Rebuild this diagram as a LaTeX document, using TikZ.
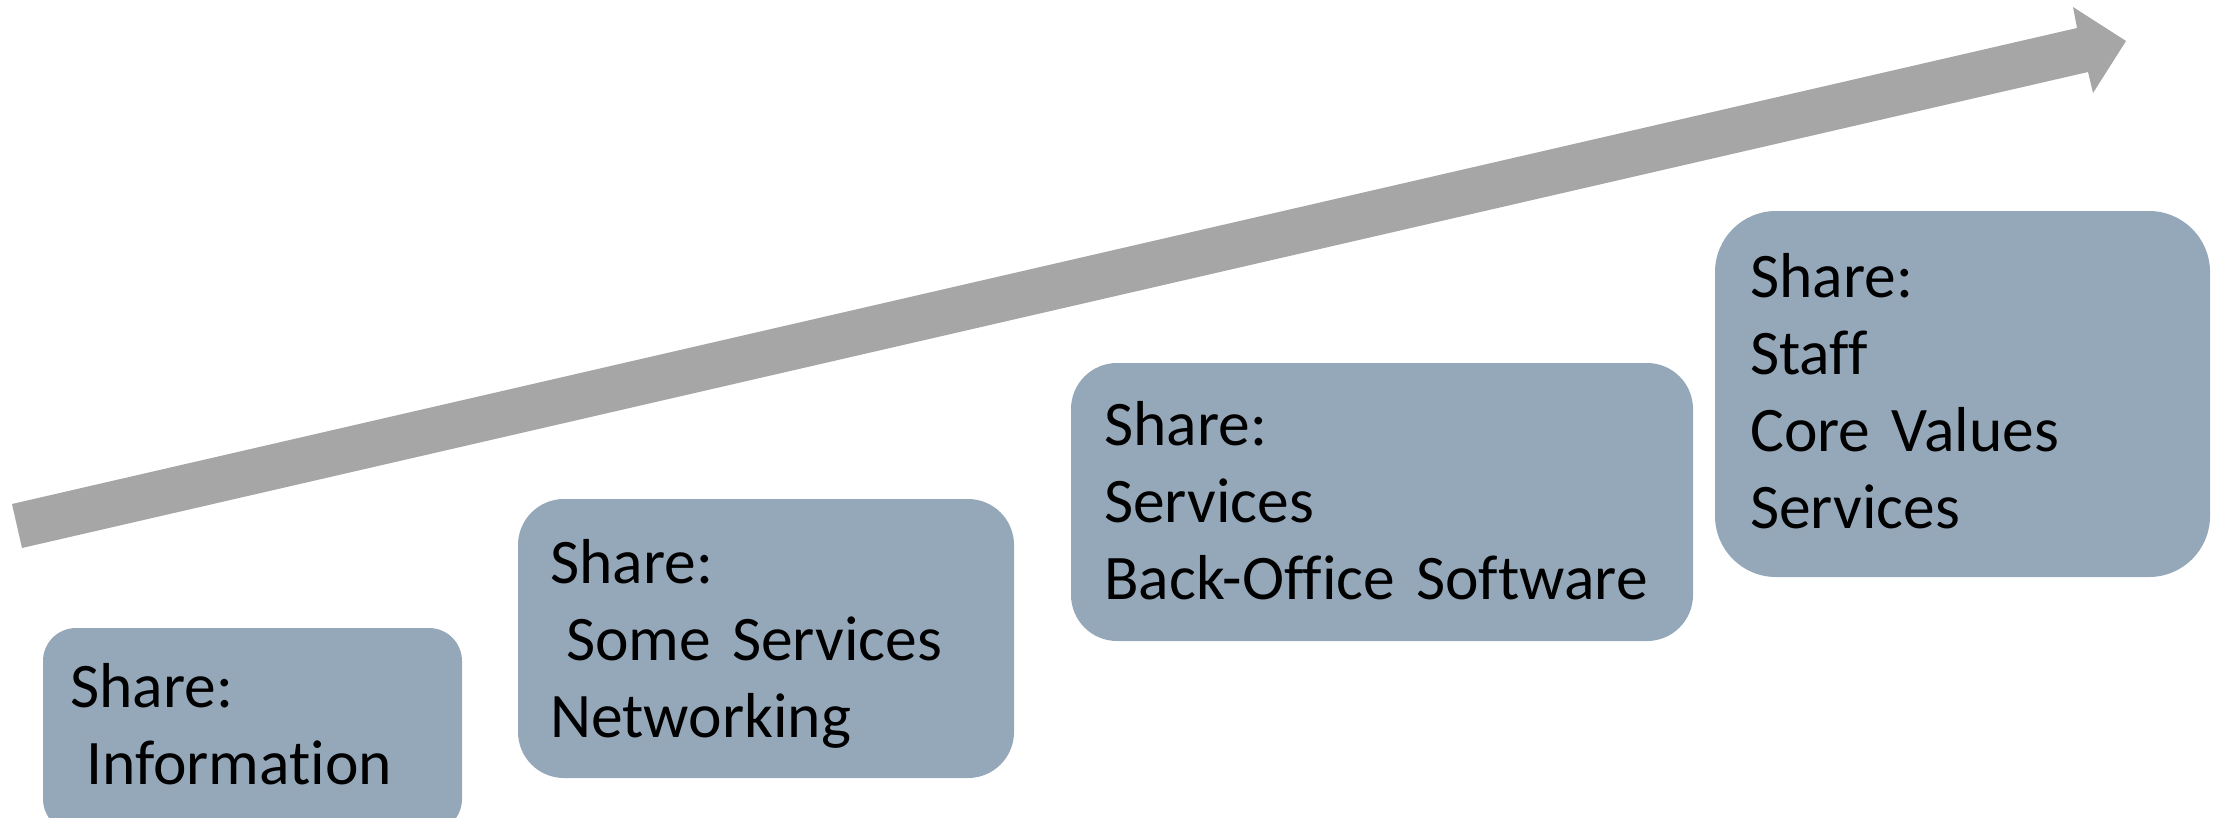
\documentclass[tikz,border=0pt]{standalone}
\usepackage{fontspec}
\setmainfont{Carlito}[RawFeature={-liga;-clig},WordSpace=0.8]
\definecolor{boxc}{HTML}{95A8B9}
\definecolor{arrowc}{HTML}{A6A6A6}
\begin{document}
\begin{tikzpicture}[x=1pt,y=-1pt,
  stepbox/.style={fill=boxc,draw=none,inner sep=0pt,rectangle},
  boxtext/.style={anchor=base west,inner sep=0pt,text width=600pt,align=left,
    font={\fontsize{63.5}{77}\selectfont},text=black}]
\useasboundingbox (0,0) rectangle (2223,817);
\clip (0,0) rectangle (2223,817);
% arrow
\fill[arrowc] (12,504) -- (2077,28) -- (2073,7) -- (2126,41) -- (2093,93) -- (2088,72) -- (22,548) -- cycle;
% boxes
\node[stepbox,rounded corners=33pt,minimum width=419pt,minimum height=204pt] (b1) at (252.5,730) {};
\node[stepbox,rounded corners=46pt,minimum width=496pt,minimum height=279pt] (b2) at (766,638.5) {};
\node[stepbox,rounded corners=46pt,minimum width=622pt,minimum height=278pt] (b3) at (1382,502) {};
\node[stepbox,rounded corners=61pt,minimum width=495pt,minimum height=366pt] (b4) at (1962.5,394) {};
% texts
\node[boxtext] (t1) at (70,707) {Share:\\\hspace*{0.25em}Information};
\node[boxtext] (t2) at (550,583) {Share:\\\hspace*{0.25em}Some Services\\Networking};
\node[boxtext] (t3) at (1104,445) {Share:\\Services\\Back-Office Software};
\node[boxtext] (t4) at (1750,297) {Share:\\Staff\\Core Values\\Services};
\end{tikzpicture}
\end{document}
